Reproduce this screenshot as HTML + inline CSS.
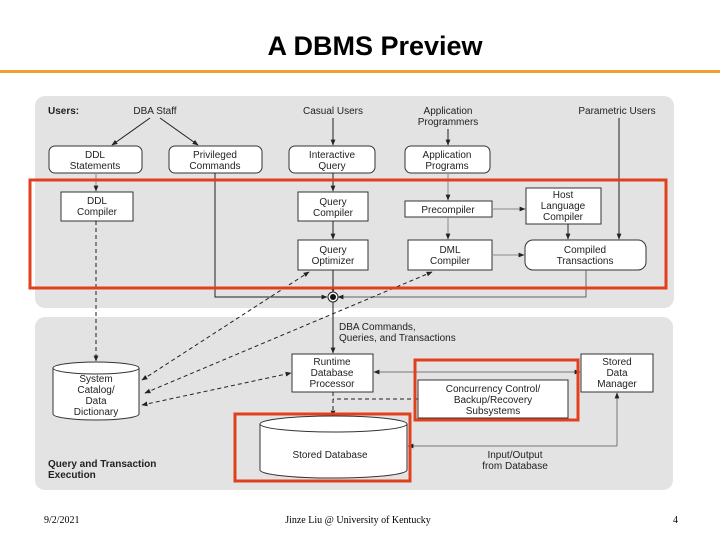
<!DOCTYPE html><html><head><style>body{margin:0;background:#fff;width:720px;height:540px;overflow:hidden}svg text{font-family:"Liberation Sans",sans-serif}</style></head><body>
<svg width="720" height="540" viewBox="0 0 720 540" xmlns="http://www.w3.org/2000/svg">
<defs><marker id="a" viewBox="0 0 10 10" refX="9" refY="5" markerWidth="6" markerHeight="6" orient="auto-start-reverse"><path d="M0,1 L10,5 L0,9z" fill="#222"/></marker></defs>
<text x="375" y="55" font-size="27" font-weight="bold" text-anchor="middle" fill="#000">A DBMS Preview</text>
<rect x="0" y="70" width="720" height="3" fill="#f0a030"/>
<rect x="35" y="96" width="639" height="212" rx="10" fill="#e3e3e3"/>
<rect x="35" y="317" width="638" height="173" rx="10" fill="#e3e3e3"/>
<g font-size="10" fill="#222" text-anchor="middle">
<text x="48" y="114" text-anchor="start" font-weight="bold">Users:</text>
<text x="155" y="114">DBA Staff</text><text x="333" y="114">Casual Users</text>
<text x="448" y="114">Application</text><text x="448" y="125">Programmers</text>
<text x="617" y="114">Parametric Users</text>
</g>
<g fill="#fff" stroke="#333" stroke-width="1">
<rect x="49" y="146" width="93" height="27" rx="6"/><rect x="169" y="146" width="93" height="27" rx="6"/>
<rect x="289" y="146" width="86" height="27" rx="6"/><rect x="405" y="146" width="85" height="27" rx="6"/>
<rect x="61" y="192" width="72" height="29"/><rect x="298" y="192" width="70" height="29"/>
<rect x="298" y="240" width="70" height="30"/><rect x="405" y="201" width="87" height="16"/>
<rect x="526" y="188" width="75" height="36"/><rect x="408" y="240" width="84" height="30"/>
<rect x="525" y="240" width="121" height="30" rx="8"/>
<rect x="292" y="354" width="81" height="38"/><rect x="581" y="354" width="72" height="38"/>
<rect x="418" y="380" width="150" height="38"/>
<path d="M53,368 v46 a43,6 0 0 0 86,0 v-46"/><ellipse cx="96" cy="368" rx="43" ry="6"/>
<path d="M260,424 v46 a73,8 0 0 0 147,0 v-46"/><ellipse cx="333.5" cy="424" rx="73.5" ry="8"/>
</g>
<g font-size="10" fill="#222" text-anchor="middle">
<text x="95" y="158">DDL</text><text x="95" y="169">Statements</text>
<text x="215" y="158">Privileged</text><text x="215" y="169">Commands</text>
<text x="332" y="158">Interactive</text><text x="332" y="169">Query</text>
<text x="447" y="158">Application</text><text x="447" y="169">Programs</text>
<text x="97" y="204">DDL</text><text x="97" y="215">Compiler</text>
<text x="333" y="205">Query</text><text x="333" y="216">Compiler</text>
<text x="333" y="253">Query</text><text x="333" y="264">Optimizer</text>
<text x="448" y="213">Precompiler</text>
<text x="563" y="198">Host</text><text x="563" y="209">Language</text><text x="563" y="220">Compiler</text>
<text x="450" y="253">DML</text><text x="450" y="264">Compiler</text>
<text x="585" y="253">Compiled</text><text x="585" y="264">Transactions</text>
<text x="332" y="365">Runtime</text><text x="332" y="376">Database</text><text x="332" y="387">Processor</text>
<text x="617" y="365">Stored</text><text x="617" y="376">Data</text><text x="617" y="387">Manager</text>
<text x="493" y="392">Concurrency Control/</text><text x="493" y="403">Backup/Recovery</text><text x="493" y="414">Subsystems</text>
<text x="96" y="382">System</text><text x="96" y="393">Catalog/</text><text x="96" y="404">Data</text><text x="96" y="415">Dictionary</text>
<text x="330" y="458">Stored Database</text>
<text x="339" y="330" text-anchor="start">DBA Commands,</text><text x="339" y="341" text-anchor="start">Queries, and Transactions</text>
<text x="515" y="458">Input/Output</text><text x="515" y="469">from Database</text>
<text x="48" y="467" text-anchor="start" font-weight="bold">Query and Transaction</text>
<text x="48" y="478" text-anchor="start" font-weight="bold">Execution</text>
</g>
<g stroke="#222" stroke-width="1" fill="none" marker-end="url(#a)">
<path d="M150,118 L112,145"/><path d="M160,118 L198,145"/><path d="M333,118 V145"/><path d="M448,129 V145"/>
<path d="M619,118 V239"/><path d="M96,173 V191" stroke="#888"/><path d="M333,173 V191"/><path d="M333,221 V239"/>
<path d="M448,173 V200" stroke="#888"/><path d="M492,209 H525" stroke="#888"/><path d="M448,217 V239" stroke="#888"/>
<path d="M568,224 V239"/><path d="M492,255 H524" stroke="#888"/>
<path d="M333,270 V292"/><path d="M215,173 V297 H327" /><path d="M586,270 V297 H338" stroke="#666"/>
<path d="M333,302 V353"/>
<path d="M96,221 V361" stroke-dasharray="4,3"/>
<path d="M142,380 L309,272" stroke-dasharray="4,3" marker-start="url(#a)"/>
<path d="M145,393 L432,272" stroke-dasharray="4,3" marker-start="url(#a)"/>
<path d="M142,405 L291,373" stroke-dasharray="4,3" marker-start="url(#a)"/>
<path d="M374,372 H580" stroke="#777" marker-start="url(#a)"/>
<path d="M333,392 V416" stroke-dasharray="4,3"/><path d="M418,399 H333" stroke-dasharray="4,3" marker-end="none"/>
<path d="M617,446 V393" stroke="#777"/><path d="M617,446 H408" stroke="#777"/>
</g>
<circle cx="333" cy="297" r="5" fill="#fff" stroke="#222"/><circle cx="333" cy="297" r="3" fill="#111"/>
<g fill="none" stroke="#e0401c" stroke-width="3">
<rect x="30" y="180" width="636" height="108"/><rect x="415" y="360" width="163" height="60"/><rect x="235" y="414" width="175" height="67"/>
</g>
<g font-size="10" fill="#000">
<text x="44" y="523" style="font-family:'Liberation Serif',serif">9/2/2021</text><text x="358" y="523" text-anchor="middle" style="font-family:'Liberation Serif',serif">Jinze Liu @ University of Kentucky</text><text x="673" y="523" style="font-family:'Liberation Serif',serif">4</text>
</g>
</svg></body></html>
